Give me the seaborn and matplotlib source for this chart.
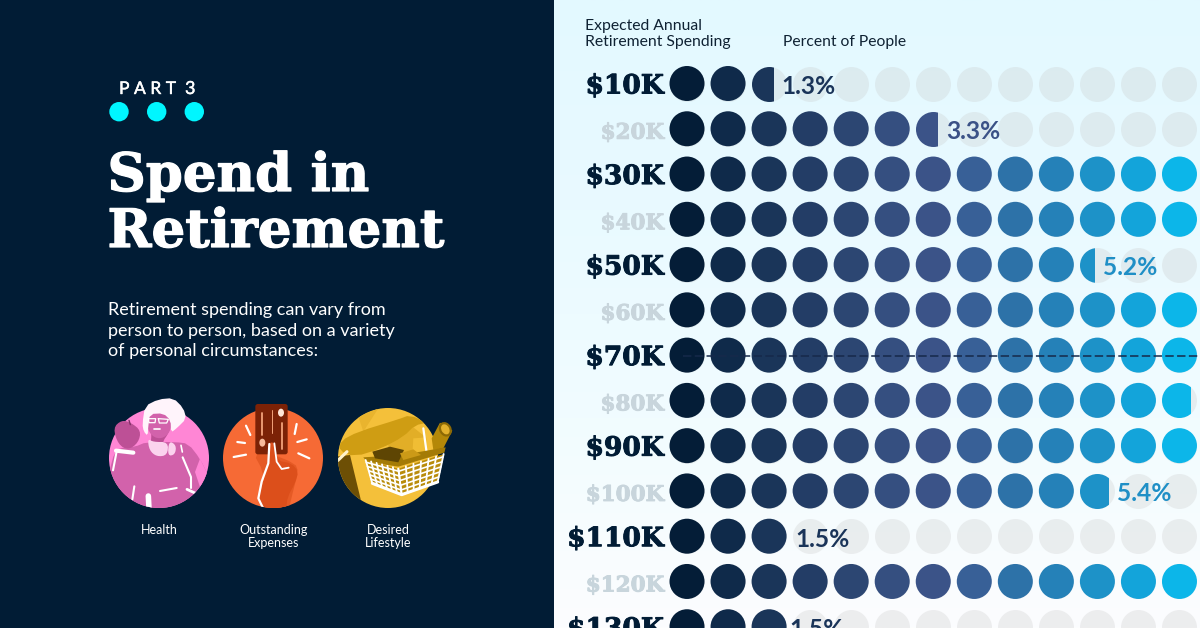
import numpy as np
import pandas as pd
import matplotlib
matplotlib.use("Agg")
import matplotlib.pyplot as plt
import matplotlib.patheffects as pe
from matplotlib.patches import Rectangle, Circle, Polygon, FancyBboxPatch, Ellipse
from matplotlib.colors import LinearSegmentedColormap
import seaborn as sns

# ---------- data ----------
spending = ["$10K", "$20K", "$30K", "$40K", "$50K", "$60K", "$70K",
            "$80K", "$90K", "$100K", "$110K", "$120K", "$130K"]
# share of people; rows that run past the right edge are kept at the visible 6.5
percent = [1.3, 3.3, 6.5, 6.5, 5.2, 6.5, 6.5, 6.4, 6.5, 5.4, 1.5, 6.5, 1.5]
labelled = ["$10K", "$20K", "$50K", "$100K", "$110K", "$130K"]
label_color = ["#1a3459", "#3b5287", "#1f8fc6", "#1f8fc6", "#1a3459", "#1a3459"]
label_nudge = [0, 0, 0, 0, 0, -6]
dots_per_percent = 2
n_dots = 13
dot_colors = ["#041d37", "#0f2a4a", "#1a3559", "#233d66", "#2c4672", "#354f80", "#3b5388",
              "#386097", "#2d72a8", "#2581b8", "#1d92c8", "#13a4da", "#0cb6e9"]

NAVY = "#011c35"
sns.set_theme(style="white", rc={"axes.facecolor": "none", "figure.facecolor": NAVY})
SANS = "Lato"
SLAB = "DejaVu Serif"

fig = plt.figure(figsize=(12, 6.28), dpi=100)

# pixel canvas for panels and decoration
bg = fig.add_axes([0, 0, 1, 1])
bg.set_xlim(0, 1200); bg.set_ylim(628, 0); bg.axis("off")
stops = ["#e3f9ff", "#e9faff", "#f1fcff", "#fcfdfe"]
cm = LinearSegmentedColormap.from_list("bgfade", stops)
bg.imshow(np.linspace(0, 1, 256)[:, None], cmap=cm, extent=[554, 1200, 628, 0], aspect="auto", zorder=0)
bg.set_xlim(0, 1200); bg.set_ylim(628, 0)

def T(x, y, s, size, color="white", family=SANS, weight="normal", ha="left", va="baseline", **kw):
    return bg.text(x, y, s, fontsize=size * 72 / 100, color=color, family=family,
                   weight=weight, ha=ha, va=va, **kw)

def thick(color, w):
    return [pe.withStroke(linewidth=w, foreground=color)]

# ---------- left panel text ----------
T(119, 94, "P A R T", 17.5, path_effects=thick("white", 0.3))
T(185, 94, "3", 18, path_effects=thick("white", 0.3))
for cx in (119, 156.7, 194.3):
    bg.add_patch(Circle((cx, 111.7), 9.7, fc="#00f6ff", ec="none"))
T(107.5, 191, "Spend in", 53, family=SLAB, weight="bold", path_effects=thick("white", 0.9))
T(107.5, 247, "Retirement", 53, family=SLAB, weight="bold", path_effects=thick("white", 0.9))
for y, s in zip((315, 336, 356), ("Retirement spending can vary from",
                                  "person to person, based on a variety",
                                  "of personal circumstances:")):
    T(108, y, s, 18.0)
for cx, lines in ((159, ["Health"]), (273.5, ["Outstanding", "Expenses"]), (388, ["Desired", "Lifestyle"])):
    for i, s in enumerate(lines):
        T(cx, 534 + 13 * i, s, 12.5, ha="center")

# ---------- illustrations (3x crop coordinates) ----------
def pts(o, seq):
    return [(o[0] + x / 3, o[1] + y / 3) for x, y in seq]

def rounded(a, n):
    a = np.asarray(a, float)
    for _ in range(n):
        b = np.roll(a, -1, axis=0)
        a = np.column_stack([0.75 * a + 0.25 * b, 0.25 * a + 0.75 * b]).reshape(-1, 2)
    return a

def poly(o, seq, color, clip=None, z=2, smooth=2):
    p = Polygon(rounded(pts(o, seq), smooth), closed=True, fc=color, ec="none", zorder=z)
    bg.add_patch(p)
    if clip is not None:
        p.set_clip_path(clip)
    return p

def stroke(o, seq, color="white", lw=1.5, clip=None, z=3):
    a = np.array(pts(o, seq))
    l, = bg.plot(a[:, 0], a[:, 1], color=color, lw=lw, solid_capstyle="round", zorder=z)
    if clip is not None:
        l.set_clip_path(clip)
    return l

# pink - health
o = (105, 392)
c1 = Circle((159, 458), 50, fc="#ff86d5", ec="none", zorder=1); bg.add_patch(c1)
poly(o, [(30, 175), (60, 165), (88, 165), (125, 150), (210, 150), (250, 155), (285, 200), (312, 255), (300, 350),
         (60, 350), (10, 250)], "#d262ab", c1, smooth=1)
poly(o, [(285, 200), (312, 255), (290, 300), (270, 240)], "#ff86d5", c1, smooth=0)
poly(o, [(24, 108), (50, 84), (78, 92), (108, 116), (100, 152), (70, 174), (40, 158)], "#bd5096")
stroke(o, [(72, 85), (76, 98)], "#7e2f66", 1)
poly(o, [(135, 100), (195, 100), (190, 125), (172, 150), (178, 178), (135, 165), (140, 130)], "#bd5096")
bg.add_patch(Ellipse((105 + 163 / 3, 392 + 95 / 3), 24, 29, fc="#d262ab", ec="none", zorder=3))
poly(o, [(112, 96), (120, 42), (160, 22), (205, 18), (235, 48), (244, 80), (216, 108), (198, 122), (197, 85),
         (175, 64), (135, 66), (130, 100), (128, 132), (116, 118)], "#fff4fb", z=4, smooth=1)
poly(o, [(128, 140), (145, 150), (190, 150), (187, 190), (155, 194), (133, 175)], "#fbd3ee", z=4)
poly(o, [(192, 146), (214, 160), (210, 188), (188, 192)], "#fbd3ee", z=4)
stroke(o, [(130, 80), (152, 80), (150, 92), (132, 92), (130, 80)], "white", 0.9, z=5)
stroke(o, [(160, 80), (190, 82), (185, 93), (163, 93), (160, 80)], "white", 0.9, z=5)
stroke(o, [(147, 110), (165, 110)], "white", 1.2, z=5)
for seq, lw in (([(33, 176), (85, 182)], 3), ([(35, 178), (24, 235)], 1.5), ([(233, 196), (258, 255), (258, 288)], 1.5),
                ([(165, 297), (215, 288)], 1.5), ([(88, 283), (82, 322)], 1.5), ([(130, 312), (132, 350)], 4),
                ([(246, 292), (272, 304)], 2), ([(228, 160), (232, 180)], 1.2)):
    stroke(o, seq, "white", lw, c1)

# orange - expenses
o = (220, 400)
c2 = Circle((273, 458), 50, fc="#f66a35", ec="none", zorder=1); bg.add_patch(c2)
poly(o, [(100, 160), (150, 160), (225, 190), (235, 215), (220, 270), (205, 335), (150, 335), (130, 215)], "#e55a25", c2, smooth=1)
bg.add_patch(FancyBboxPatch((220 + 106 / 3, 400 + 12 / 3), 97 / 3, 151 / 3, boxstyle="round,pad=0,rounding_size=2.5",
                            fc="#7c2206", ec="none", zorder=2))
for x, y0, y1, lw in ((127, 38, 105, 1.3), (155, 30, 100, 0.7), (185, 70, 148, 1.3)):
    stroke(o, [(x, y0), (x, y1)], "#f3a27a", lw)
bg.add_patch(Ellipse((220 + 183 / 3, 400 + 38 / 3), 6, 8, fc="#ffe6d6", ec="none", zorder=3))
bg.add_patch(Ellipse((220 + 127 / 3, 400 + 128 / 3), 6, 8, fc="#f6b99a", ec="none", zorder=3))
poly(o, [(146, 135), (155, 125), (165, 135), (172, 182), (215, 190), (235, 215), (225, 250), (203, 290), (198, 330),
         (125, 325), (116, 295), (130, 240), (146, 190)], "#dc4f1b", c2, z=4, smooth=1)
stroke(o, [(148, 132), (145, 190), (125, 245), (115, 295), (128, 322)], "white", 1.6, c2, z=5)
stroke(o, [(163, 130), (170, 185), (185, 207), (206, 203)], "white", 1.3, z=5)
for seq in ([(78, 77), (91, 105)], [(52, 126), (75, 129)], [(41, 171), (78, 164)], [(230, 72), (224, 102)],
            [(232, 126), (260, 118)], [(235, 160), (268, 175)]):
    stroke(o, seq, "white", 1.6)

# yellow - lifestyle
o = (335, 400)
c3 = Circle((388, 458), 50, fc="#f4c03a", ec="none", zorder=1); bg.add_patch(c3)
poly(o, [(0, 170), (45, 165), (80, 310), (0, 310)], "#6d4f05", c3, smooth=0)
poly(o, [(70, 50), (85, 95), (130, 25)], "#e9b42e", c3, smooth=0)
stroke(o, [(8, 182), (36, 155)], "#fff2cc", 2.2, c3)
poly(o, [(160, 115), (235, 82), (276, 115), (272, 165), (160, 160)], "#e2ae27", smooth=0)
poly(o, [(235, 115), (276, 112), (272, 165), (232, 165)], "#f0bd34", smooth=0)
poly(o, [(18, 122), (70, 95), (190, 58), (225, 45), (276, 68), (240, 76), (205, 110), (140, 145), (60, 170), (12, 152)],
     "#cf9d13", c3, z=2, smooth=1)
poly(o, [(290, 115), (315, 68), (352, 92), (325, 145), (295, 150)], "#b48808", z=2, smooth=0)
bg.add_patch(Ellipse((335 + 331 / 3, 400 + 88 / 3), 10, 13, angle=-30, fc="#e3b12c", ec="#8c6904", lw=1.6, zorder=3))
stroke(o, [(265, 85), (275, 158)], "white", 1.6, z=3)
poly(o, [(85, 172), (200, 165), (332, 142), (328, 158), (190, 200), (95, 185)], "#a47b06", z=3, smooth=0)
poly(o, [(112, 155), (165, 140), (207, 150), (190, 187), (120, 175)], "#5e4503", z=4, smooth=0)
poly(o, [(195, 160), (235, 148), (258, 165), (205, 180)], "#cc9a17", z=4, smooth=0)
corners = np.array([(92, 180), (190, 206), (326, 162), (308, 246), (200, 284), (112, 250)], float)
poly(o, corners, "#b98c0b", z=4, smooth=0)
top_l, top_m, top_r = corners[0], corners[1], corners[2]
bot_r, bot_m, bot_l = corners[3], corners[4], corners[5]
for seg_top0, seg_top1, seg_bot0, seg_bot1 in ((top_l, top_m, bot_l, bot_m), (top_m, top_r, bot_m, bot_r)):
    for t in np.linspace(0, 1, 7):
        stroke(o, [seg_top0 + (seg_top1 - seg_top0) * t, seg_bot0 + (seg_bot1 - seg_bot0) * t], "white", 1.3, z=5)
    for t in np.linspace(0.1, 1, 6):
        a = seg_top0 + (seg_bot0 - seg_top0) * t
        b = seg_top1 + (seg_bot1 - seg_top1) * t
        stroke(o, [a, b], "white", 1.2, z=5)
stroke(o, [bot_l, bot_m, bot_r], "white", 2.2, z=5)

# ---------- chart ----------
pitch_x, pitch_y, x0, y0_ = 41.04, 45.27, 687.0, 83.5
radius = 17.5 / pitch_x          # in dot units
ax = fig.add_axes([0, 0, 1, 1])
MARKER = (35 * 72 / 100) ** 2

dots = pd.DataFrame([{"row": r, "dot": d, "spend": s, "fill": np.clip(p * dots_per_percent - d, 0, 1)}
                     for r, (s, p) in enumerate(zip(spending, percent)) for d in range(n_dots)])
palette = dict(enumerate(dot_colors))

# pale track under all dots
sns.scatterplot(data=dots, x="dot", y="row", s=MARKER, color="#c7c7c7", alpha=0.28, linewidth=0, ax=ax,
                legend=False, zorder=2)
full = dots[dots["fill"] >= 0.999]
sns.scatterplot(data=full, x="dot", y="row", hue="dot", palette=palette, s=MARKER, linewidth=0, ax=ax,
                legend=False, zorder=3)
partial = dots[(dots["fill"] > 0) & (dots["fill"] < 0.999)]
for dot_i, row_i, fill_i in zip(partial["dot"], partial["row"], partial["fill"]):
    n0 = len(ax.collections)
    sns.scatterplot(x=[dot_i], y=[row_i], color=dot_colors[int(dot_i)], s=MARKER, linewidth=0, ax=ax,
                    legend=False, zorder=3)
    clip = Rectangle((dot_i - radius, row_i - 0.5), 2 * radius * fill_i, 1, transform=ax.transData)
    ax.collections[n0].set_clip_path(clip)

# 70K dashed line
row70 = spending.index("$70K")
ax.plot([-0.1, n_dots], [row70 + 0.01, row70 + 0.01], color="#16294a", lw=1.1, dashes=(5.5, 2.2), zorder=4)

ax.set_xlim((0 - x0) / pitch_x, (1200 - x0) / pitch_x)
ax.set_ylim((628 - y0_) / pitch_y, (0 - y0_) / pitch_y)
ax.axis("off")

# row labels
for r, s in enumerate(spending):
    col = NAVY if r % 2 == 0 else "#c8d5dc"
    ax.annotate(s, (-radius, r), xytext=(-5.5, -10), textcoords="offset pixels", ha="right", va="baseline",
                fontsize=(26.5 if r % 2 == 0 else 21.5) * 72 / 100, family=SLAB, weight="bold",
                color=col, zorder=5, path_effects=thick(col, 0.7))

# percent labels
for s, col, nudge in zip(labelled, label_color, label_nudge):
    r = spending.index(s)
    v = percent[r] * dots_per_percent
    n = int(np.floor(v + 1e-9))
    frac = v - n
    edge = (n - radius + 2 * radius * frac) if frac > 1e-6 else (n - 1 + radius)
    ax.annotate(f"{percent[r]}%", (edge, r), xytext=(9 + nudge, -10.5), textcoords="offset pixels", ha="left",
                va="baseline", fontsize=24.5 * 72 / 100, family=SANS, weight="bold", color=col, zorder=5)

# header
HEAD = "#0f2233"
T(585, 30, "Expected Annual", 15.7, color=HEAD, zorder=6)
T(585, 46, "Retirement Spending", 15.7, color=HEAD, zorder=6)
T(783, 46, "Percent of People", 15.6, color=HEAD, zorder=6)

fig.savefig("out.png", dpi=100, facecolor=NAVY)
